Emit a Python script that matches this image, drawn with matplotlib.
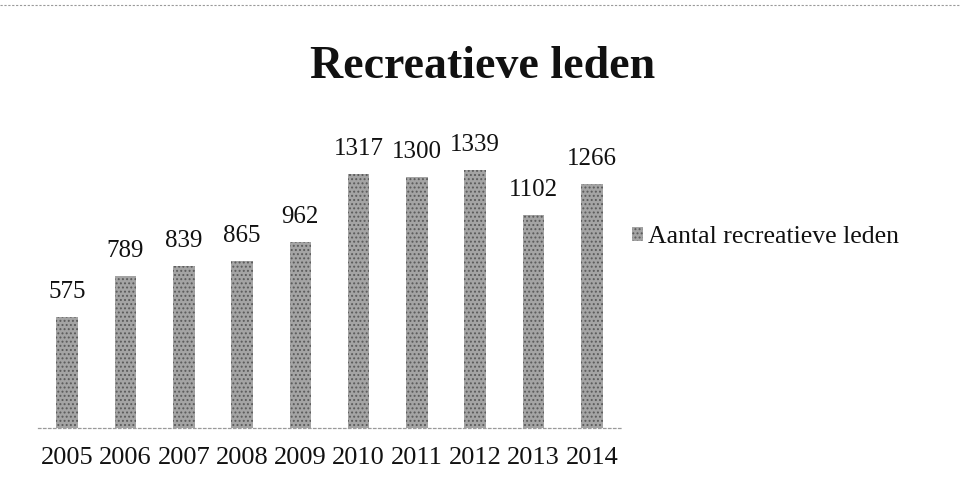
import matplotlib
matplotlib.use("Agg")
import matplotlib.pyplot as plt
from matplotlib.patches import Patch
from matplotlib.lines import Line2D

years = ["2005", "2006", "2007", "2008", "2009", "2010", "2011", "2012", "2013", "2014"]
members = [575, 789, 839, 865, 962, 1317, 1300, 1339, 1102, 1266]
title = "Recreatieve leden"
series_name = "Aantal recreatieve leden"

plt.rcParams["font.family"] = ["Liberation Serif", "DejaVu Serif"]
plt.rcParams["hatch.linewidth"] = 0.9
plt.rcParams["hatch.color"] = "#5a5a5a"

fig = plt.figure(figsize=(9.6, 4.84), dpi=100)
ax = fig.add_axes([0.0396, 0.1157, 0.6073, 0.558])

x = list(range(len(years)))
ax.bar(x, members, width=0.37, color="#a4a4a4", edgecolor="#5a5a5a",
       linewidth=0, hatch="....")

for xi, v in zip(x, members):
    ax.annotate(str(v), (xi, v), xytext=(0, 18), textcoords="offset points",
                ha="center", va="center", fontsize=18, color="#111111")

ax.set_xlim(-0.5, len(years) - 0.5)
ax.set_ylim(0, 1400)
ax.set_xticks(x)
ax.set_xticklabels(years, fontsize=19, color="#111111")
ax.tick_params(axis="x", length=0, pad=14)
ax.set_yticks([])
for s in ["top", "right", "left"]:
    ax.spines[s].set_visible(False)
ax.spines["bottom"].set_color("#9a9a9a")
ax.spines["bottom"].set_linestyle((0, (2, 2)))
ax.spines["bottom"].set_linewidth(0.9)

fig.text(0.503, 0.862, title, ha="center", va="center", fontsize=33,
         fontweight="bold", color="#111111")

handle = Patch(facecolor="#a4a4a4", edgecolor="#5a5a5a", linewidth=0, hatch="....")
fig.legend([handle], [series_name], loc="center left",
           bbox_to_anchor=(0.658, 0.51), frameon=False, fontsize=18.5,
           handlelength=0.45, handleheight=0.45, handletextpad=0.2,
           borderpad=0, borderaxespad=0, labelcolor="#111111")

fig.add_artist(Line2D([0.0, 1.0], [0.99, 0.99], transform=fig.transFigure,
                      color="#9a9a9a", linewidth=0.8, linestyle=(0, (2, 1.5))))

fig.savefig("out.png", dpi=100, facecolor="white")
